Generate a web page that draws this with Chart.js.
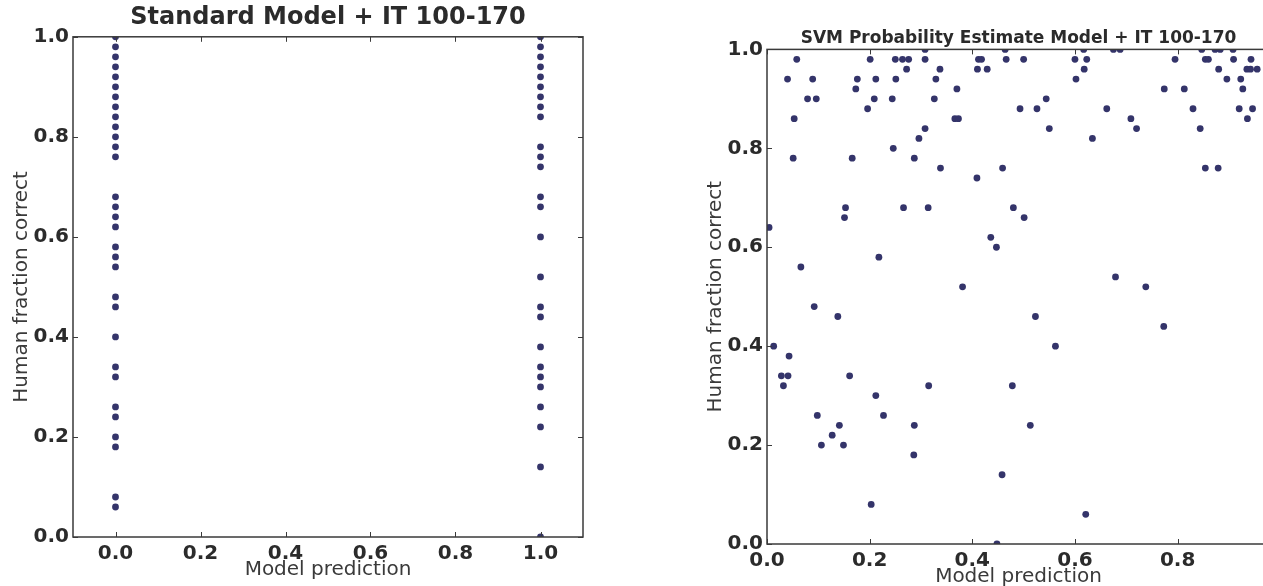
<!DOCTYPE html>
<html>
<head>
<meta charset="utf-8">
<script src="https://cdn.jsdelivr.net/npm/chart.js@4.4.1/dist/chart.umd.min.js"></script>
<style>
  html, body { margin: 0; padding: 0; background: #fff; overflow: hidden; width: 1263px; height: 586px; }
  #left { position: absolute; left: 0; top: 0; }
  #right { position: absolute; left: 640px; top: 0; }
</style>
</head>
<body>
<canvas id="left" width="600" height="586"></canvas>
<canvas id="right" width="640" height="600"></canvas>
<script>
// tick positions shared by both panels
const tickValues = [0, 0.2, 0.4, 0.6, 0.8, 1.0];

// left panel: the standard model only predicts 0 or 1
const stdPredictionLevels = [0, 1];
const stdHumanAtZero = [
  1.00, 0.98, 0.96, 0.94, 0.92, 0.90, 0.88, 0.86, 0.84, 0.82, 0.80, 0.78, 0.76,
  0.68, 0.66, 0.64, 0.62, 0.58, 0.56, 0.54, 0.48, 0.46, 0.40, 0.34, 0.32,
  0.26, 0.24, 0.20, 0.18, 0.08, 0.06
];
const stdHumanAtOne = [
  1.00, 0.98, 0.96, 0.94, 0.92, 0.90, 0.88, 0.86, 0.84, 0.78, 0.76, 0.74,
  0.68, 0.66, 0.60, 0.52, 0.46, 0.44, 0.38, 0.34, 0.32, 0.30, 0.26, 0.22,
  0.14, 0.00
];

// right panel: SVM probability estimate vs human fraction correct
const svmPrediction = [
  0.308, 0.464, 0.617, 0.675, 0.688, 0.847, 0.873, 0.883, 0.908,
  0.058, 0.201, 0.250, 0.264, 0.276, 0.308, 0.412, 0.418, 0.466, 0.500, 0.600, 0.623, 0.795, 0.854, 0.860, 0.909, 0.943,
  0.272, 0.337, 0.410, 0.429, 0.618, 0.880, 0.935, 0.942, 0.955,
  0.040, 0.089, 0.176, 0.212, 0.251, 0.329, 0.602, 0.896, 0.923,
  0.173, 0.370, 0.774, 0.813, 0.927,
  0.079, 0.096, 0.209, 0.244, 0.326, 0.544,
  0.196, 0.493, 0.526, 0.662, 0.830, 0.920, 0.946,
  0.053, 0.366, 0.373, 0.709, 0.936,
  0.308, 0.550, 0.720, 0.844,
  0.296, 0.634,
  0.246,
  0.051, 0.166, 0.287,
  0.338, 0.459, 0.854, 0.879,
  0.409,
  0.153, 0.266, 0.314, 0.480,
  0.151, 0.501,
  0.004, 0.436, 0.447, 0.218, 0.066, 0.679,
  0.381, 0.738,
  0.092,
  0.138, 0.523,
  0.773,
  0.013, 0.562,
  0.043,
  0.028, 0.041, 0.161,
  0.032, 0.315, 0.478,
  0.212,
  0.098, 0.227,
  0.141, 0.287, 0.513,
  0.127,
  0.106, 0.149,
  0.286, 0.458, 0.203, 0.621, 0.448
];
const svmHuman = [
  1.00, 1.00, 1.00, 1.00, 1.00, 1.00, 1.00, 1.00, 1.00,
  0.98, 0.98, 0.98, 0.98, 0.98, 0.98, 0.98, 0.98, 0.98, 0.98, 0.98, 0.98, 0.98, 0.98, 0.98, 0.98, 0.98,
  0.96, 0.96, 0.96, 0.96, 0.96, 0.96, 0.96, 0.96, 0.96,
  0.94, 0.94, 0.94, 0.94, 0.94, 0.94, 0.94, 0.94, 0.94,
  0.92, 0.92, 0.92, 0.92, 0.92,
  0.90, 0.90, 0.90, 0.90, 0.90, 0.90,
  0.88, 0.88, 0.88, 0.88, 0.88, 0.88, 0.88,
  0.86, 0.86, 0.86, 0.86, 0.86,
  0.84, 0.84, 0.84, 0.84,
  0.82, 0.82,
  0.80,
  0.78, 0.78, 0.78,
  0.76, 0.76, 0.76, 0.76,
  0.74,
  0.68, 0.68, 0.68, 0.68,
  0.66, 0.66,
  0.64, 0.62, 0.60, 0.58, 0.56, 0.54,
  0.52, 0.52,
  0.48,
  0.46, 0.46,
  0.44,
  0.40, 0.40,
  0.38,
  0.34, 0.34, 0.34,
  0.32, 0.32, 0.32,
  0.30,
  0.26, 0.26,
  0.24, 0.24, 0.24,
  0.22,
  0.20, 0.20,
  0.18, 0.14, 0.08, 0.06, 0.00
];

const FONT = "'DejaVu Sans', 'Liberation Sans', sans-serif";
const dotColor = "#34346a";
const inkColor = "#2b2b2b";

// box round the plot with short inward ticks, like matplotlib
const framePlugin = {
  id: "frame",
  afterDatasetsDraw(chart) {
    const { ctx, chartArea: a, scales } = chart;
    ctx.save();
    ctx.strokeStyle = "#3a3a3a";
    ctx.lineWidth = 1.5;
    ctx.strokeRect(a.left, a.top, a.right - a.left, a.bottom - a.top);
    ctx.lineWidth = 1;
    ctx.beginPath();
    scales.x.ticks.forEach((t) => {
      const px = Math.round(scales.x.getPixelForValue(t.value)) + 0.5;
      ctx.moveTo(px, a.bottom); ctx.lineTo(px, a.bottom - 5);
      ctx.moveTo(px, a.top); ctx.lineTo(px, a.top + 5);
    });
    scales.y.ticks.forEach((t) => {
      const py = Math.round(scales.y.getPixelForValue(t.value)) + 0.5;
      ctx.moveTo(a.left, py); ctx.lineTo(a.left + 5, py);
      ctx.moveTo(a.right, py); ctx.lineTo(a.right - 5, py);
    });
    ctx.stroke();
    ctx.restore();
  },
};

function makePanel(id, points, cfg) {
  const ctx = document.getElementById(id).getContext("2d");
  return new Chart(ctx, {
    type: "scatter",
    data: {
      datasets: [{
        data: points,
        backgroundColor: dotColor,
        borderWidth: 0,
        pointRadius: 3.4,
        pointHoverRadius: 3.4,
        clip: 0,
      }],
    },
    options: {
      responsive: false,
      animation: false,
      layout: { padding: { left: 0, right: cfg.padRight, top: 0, bottom: 0 } },
      plugins: {
        legend: { display: false },
        tooltip: { enabled: false },
        title: {
          display: true,
          text: cfg.title,
          fullSize: false,
          color: inkColor,
          font: { family: FONT, size: cfg.titleSize, weight: "bold" },
          padding: cfg.titlePad,
        },
      },
      scales: {
        x: {
          type: "linear",
          min: cfg.xMin,
          max: cfg.xMax,
          afterBuildTicks: (s) => { s.ticks = tickValues.filter((v) => v <= cfg.xMax).map((v) => ({ value: v })); },
          afterFit: (s) => { s.height = cfg.xHeight; },
          grid: { display: false, drawTicks: false },
          border: { display: false },
          ticks: {
            color: inkColor, padding: 5, autoSkip: false, maxRotation: 0,
            font: { family: FONT, size: 20, weight: "bold" },
            callback: (v) => Number(v).toFixed(1),
          },
          title: {
            display: true, text: "Model prediction", color: "#3a3a3a",
            font: { family: FONT, size: 20 },
            padding: { top: 0, bottom: cfg.xTitlePad },
          },
        },
        y: {
          type: "linear",
          min: 0,
          max: 1,
          afterBuildTicks: (s) => { s.ticks = tickValues.map((v) => ({ value: v })); },
          afterFit: (s) => { s.width = cfg.yWidth; },
          grid: { display: false, drawTicks: false },
          border: { display: false },
          ticks: {
            color: inkColor, padding: 4,
            font: { family: FONT, size: 20, weight: "bold" },
            callback: (v) => Number(v).toFixed(1),
          },
          title: {
            display: true, text: "Human fraction correct", color: "#3a3a3a",
            font: { family: FONT, size: 20 },
            padding: { top: cfg.yTitlePad, bottom: 0 },
          },
        },
      },
    },
    plugins: [framePlugin],
  });
}

const stdPoints = [
  ...stdHumanAtZero.map((h) => ({ x: stdPredictionLevels[0], y: h })),
  ...stdHumanAtOne.map((h) => ({ x: stdPredictionLevels[1], y: h })),
];
const svmPoints = svmPrediction.map((p, i) => ({ x: p, y: svmHuman[i] }));

makePanel("left", stdPoints, {
  title: "Standard Model + IT 100-170",
  titleSize: 24,
  titlePad: { top: 3, bottom: 5 },
  xMin: -0.1, xMax: 1.1,
  xHeight: 49, xTitlePad: 4,
  yWidth: 73, yTitlePad: 10,
  padRight: 17,
});

makePanel("right", svmPoints, {
  title: "SVM Probability Estimate Model + IT 100-170",
  titleSize: 17,
  titlePad: { top: 28, bottom: 1 },
  xMin: 0, xMax: 0.98,
  xHeight: 56, xTitlePad: 11,
  yWidth: 127, yTitlePad: 64,
  padRight: 10,
});
</script>
</body>
</html>
